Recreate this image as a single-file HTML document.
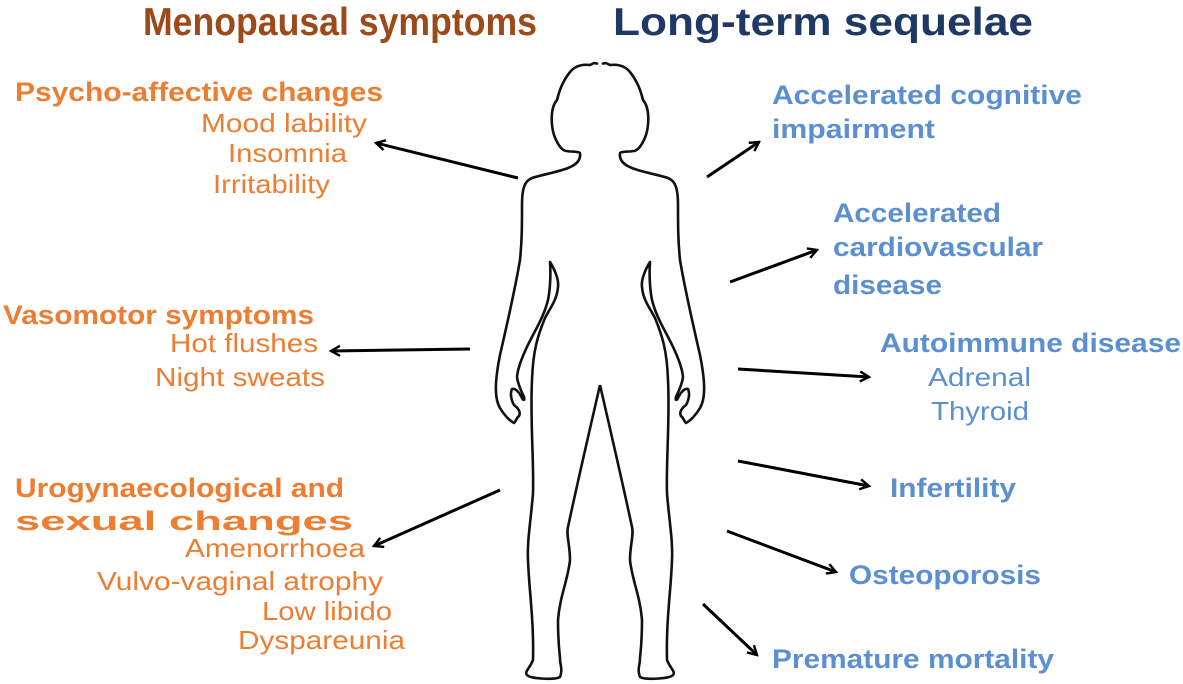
<!DOCTYPE html>
<html><head><meta charset="utf-8"><style>
html,body{margin:0;padding:0;background:#fff;}
svg{display:block;}
text{font-family:"Liberation Sans",Arial,sans-serif;}
.o{fill:#ed7d31;font-size:26px;}
.ob{fill:#ed7d31;font-size:27px;font-weight:bold;}
.b{fill:#5b8fd0;font-size:26px;}
.bb{fill:#5b8fd0;font-size:27px;font-weight:bold;}
</style></head><body>
<svg width="1183" height="684" viewBox="0 0 1183 684" xmlns="http://www.w3.org/2000/svg">
<defs>
<marker id="ah" viewBox="0 0 12 12" refX="10" refY="6" markerWidth="12" markerHeight="12" markerUnits="userSpaceOnUse" orient="auto">
<path d="M1,1 L10,6 L1,11" fill="none" stroke="#000" stroke-width="2.4"/>
</marker>
</defs>
<text x="143" y="35" font-size="39" font-weight="bold" fill="#9c4a1a" textLength="394" lengthAdjust="spacingAndGlyphs">Menopausal symptoms</text>
<text x="613" y="35" font-size="39" font-weight="bold" fill="#1f3864" textLength="420" lengthAdjust="spacingAndGlyphs">Long-term sequelae</text>

<text class="ob" x="15" y="101" textLength="368" lengthAdjust="spacingAndGlyphs">Psycho-affective changes</text>
<text class="o" x="201" y="132" textLength="166" lengthAdjust="spacingAndGlyphs">Mood lability</text>
<text class="o" x="228" y="162" textLength="119" lengthAdjust="spacingAndGlyphs">Insomnia</text>
<text class="o" x="213" y="193" textLength="117" lengthAdjust="spacingAndGlyphs">Irritability</text>

<text class="ob" x="3" y="324" textLength="311" lengthAdjust="spacingAndGlyphs">Vasomotor symptoms</text>
<text class="o" x="170" y="352" textLength="148" lengthAdjust="spacingAndGlyphs">Hot flushes</text>
<text class="o" x="155" y="386" textLength="170" lengthAdjust="spacingAndGlyphs">Night sweats</text>

<text class="ob" x="15" y="497" textLength="329" lengthAdjust="spacingAndGlyphs">Urogynaecological and</text>
<text class="ob" x="15" y="530" textLength="338" lengthAdjust="spacingAndGlyphs">sexual changes</text>
<text class="o" x="185" y="557" textLength="180" lengthAdjust="spacingAndGlyphs">Amenorrhoea</text>
<text class="o" x="97" y="590" textLength="286" lengthAdjust="spacingAndGlyphs">Vulvo-vaginal atrophy</text>
<text class="o" x="262" y="620" textLength="130" lengthAdjust="spacingAndGlyphs">Low libido</text>
<text class="o" x="238" y="649" textLength="167" lengthAdjust="spacingAndGlyphs">Dyspareunia</text>

<text class="bb" x="772" y="104" textLength="310" lengthAdjust="spacingAndGlyphs">Accelerated cognitive</text>
<text class="bb" x="772" y="138" textLength="163" lengthAdjust="spacingAndGlyphs">impairment</text>
<text class="bb" x="833" y="222" textLength="168" lengthAdjust="spacingAndGlyphs">Accelerated</text>
<text class="bb" x="833" y="256" textLength="210" lengthAdjust="spacingAndGlyphs">cardiovascular</text>
<text class="bb" x="833" y="294" textLength="109" lengthAdjust="spacingAndGlyphs">disease</text>
<text class="bb" x="880" y="352" textLength="301" lengthAdjust="spacingAndGlyphs">Autoimmune disease</text>
<text class="b" x="928" y="386" textLength="103" lengthAdjust="spacingAndGlyphs">Adrenal</text>
<text class="b" x="931" y="420" textLength="98" lengthAdjust="spacingAndGlyphs">Thyroid</text>
<text class="bb" x="890" y="497" textLength="126" lengthAdjust="spacingAndGlyphs">Infertility</text>
<text class="bb" x="849" y="584" textLength="192" lengthAdjust="spacingAndGlyphs">Osteoporosis</text>
<text class="bb" x="772" y="668" textLength="282" lengthAdjust="spacingAndGlyphs">Premature mortality</text>

<g stroke="#000" stroke-width="3" fill="none" marker-end="url(#ah)">
<line x1="518" y1="178" x2="376" y2="143"/>
<line x1="470" y1="349" x2="331" y2="351"/>
<line x1="500" y1="490" x2="374" y2="546"/>
<line x1="707" y1="177" x2="759" y2="142"/>
<line x1="730" y1="282" x2="817" y2="250"/>
<line x1="738" y1="369" x2="869" y2="377"/>
<line x1="738" y1="461" x2="869" y2="486"/>
<line x1="727" y1="531" x2="836" y2="572"/>
<line x1="703" y1="604" x2="757" y2="655"/>
</g>

<g stroke="#111" stroke-width="2.6" fill="none" stroke-linejoin="round">
<path id="half" d="M598,64 C594,62 592,64 590,65 C582,64 575,66 570,72 C562,82 559,92 557,100 C550,108 551,125 554,135 C557,143 561,150 566,151 C572,152 578,151 580,153 C581,160 576,165 568,168 C558,172 545,174 532,178 C524,181 522,190 522,205 C522,225 522,240 520,260 C515,290 508,320 500,355 C495,380 494,398 500,408 C504,415 510,421 514,423 C517,420 516,418 519,416 C521,412 518,408 514,405 C511,400 510,393 512,389 C515,388 519,392 521,396 C523,401 525,401 524,397 C521,390 518,385 517,377 C518,365 525,350 533,335 C540,322 545,312 548,300 C550,290 551,275 550,262 C555,270 559,280 558,287 C557,300 550,308 545,318 C538,335 533,350 532,380 C530,420 534,460 533,493 C531,520 527,540 528,560 C529,590 534,620 533,660 C530,668 524,672 527,675 C530,679 555,680 560,677 C563,670 560,665 560,658 C558,640 558,630 558,620 C560,595 568,580 570,560 C570,545 566,535 568,527 C578,480 592,420 600,385"/>
<use href="#half" transform="translate(1200,0) scale(-1,1)"/>
</g>
</svg>
</body></html>
